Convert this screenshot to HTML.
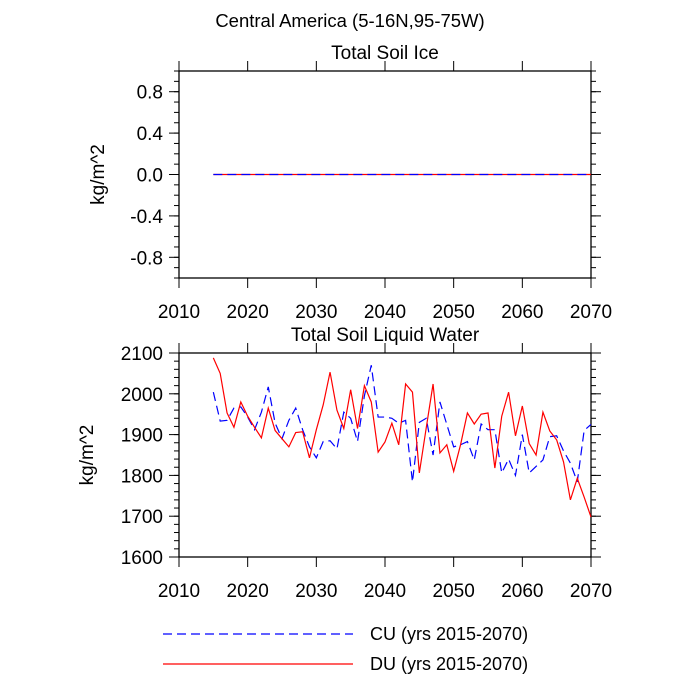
<!DOCTYPE html>
<html><head><meta charset="utf-8"><style>body{margin:0;background:#fff}svg{display:block;font-family:"Liberation Sans",sans-serif}</style></head>
<body>
<svg id="c" width="700" height="700"></svg>
<script>
const years=[];for(let y=2015;y<=2070;y++)years.push(y);
const duWater=[2088,2050,1953,1918,1980,1945,1918,1892,1965,1910,1890,1870,1905,1907,1843,1912,1973,2053,1960,1915,2010,1915,2020,1980,1857,1882,1928,1875,2024,2004,1806,1916,2024,1855,1875,1810,1875,1953,1926,1950,1953,1818,1945,2004,1897,1970,1878,1850,1955,1909,1887,1833,1740,1793,1747,1698];
const cuWater=[2004,1933,1935,1965,1968,1943,1912,1955,2017,1928,1890,1935,1965,1912,1870,1843,1883,1885,1865,1955,1940,1883,1995,2070,1943,1943,1940,1928,1935,1784,1930,1940,1850,1980,1925,1870,1875,1883,1838,1926,1912,1912,1806,1840,1800,1900,1806,1822,1838,1895,1897,1860,1830,1784,1910,1925];
const duIce=years.map(()=>0);
const cuIce=years.map(()=>0);
const xTicks=[2010,2020,2030,2040,2050,2060,2070];
const iceTicks=[0.8,0.4,0.0,-0.4,-0.8];
const waterTicks=[2100,2000,1900,1800,1700,1600];
const NS="http://www.w3.org/2000/svg";const svg=document.getElementById('c');
function el(t,a,p){const e=document.createElementNS(NS,t);for(const k in a)e.setAttribute(k,a[k]);(p||svg).appendChild(e);return e;}
function txt(s,a,p){const e=el('text',a,p);e.textContent=s;return e;}
const X0=179,X1=591;const xs=v=>X0+(v-2010)/60*(X1-X0);
function panel(name,top,bot,ymin,ymax,ticks,minorStep,fmt,cu,du,title,blueTop){
 const g=el('g',{});
 
 
 const ys=v=>bot-(v-ymin)/(ymax-ymin)*(bot-top);
 const r=el('rect',{x:X0,y:top,width:X1-X0,height:bot-top,fill:'none',stroke:'#000','stroke-width':1.3},g);
 
 for(const t of xTicks){const x=xs(t);
  el('line',{x1:x,x2:x,y1:bot,y2:bot+10,stroke:'#000'},g);el('line',{x1:x,x2:x,y1:top,y2:top-10,stroke:'#000'},g);
  const l=txt(String(t),{x:x,y:bot+40,'font-size':19,'text-anchor':'middle'},g);
  }
 for(let v=ymin;v<=ymax+1e-9;v+=minorStep){const y=ys(v);
  el('line',{x1:X0,x2:X0-5,y1:y,y2:y,stroke:'#000'},g);el('line',{x1:X1,x2:X1+5,y1:y,y2:y,stroke:'#000'},g);}
 for(const t of ticks){const y=ys(t);
  el('line',{x1:X0,x2:X0-10,y1:y,y2:y,stroke:'#000'},g);el('line',{x1:X1,x2:X1+10,y1:y,y2:y,stroke:'#000'},g);
  const l=txt(fmt(t),{x:X0-16,y:y+7,'font-size':19,'text-anchor':'end'},g);
  }
 const tt=txt(title,{x:385,y:top-12,'font-size':19,'text-anchor':'middle'},g);
 
 const yt=txt('kg/m^2',{x:0,y:0,'font-size':19,'text-anchor':'middle',transform:`translate(${name==='ice-panel'?104:93},${(top+bot)/2}) rotate(-90)`},g);
 
 const mk=(data,isCu)=>{const p=el('polyline',{points:data.map((v,i)=>xs(years[i])+','+ys(v)).join(' '),fill:'none',stroke:isCu?'#0000ff':'#ff0000','stroke-width':1.2},g);
  if(isCu)p.setAttribute('stroke-dasharray','9,5');return p;};
 let p1,p2;
 if(blueTop){p2=mk(du,false);p1=mk(cu,true);}else{p1=mk(cu,true);p2=mk(du,false);}
 
 
}
panel('ice-panel',71,278,-1,1,iceTicks,0.1,v=>v.toFixed(1),cuIce,duIce,'Total Soil Ice',true);
panel('water-panel',353,557,1600,2100,waterTicks,20,v=>String(v),cuWater,duWater,'Total Soil Liquid Water',false);
const mt=txt('Central America (5-16N,95-75W)',{x:350,y:27,'font-size':18.5,'text-anchor':'middle'});

const l1=el('line',{x1:163,x2:353,y1:634,y2:634,stroke:'#0000ff','stroke-width':1.2,'stroke-dasharray':'9,5'});

const t1=txt('CU (yrs 2015-2070)',{x:370,y:640,'font-size':18});

const l2=el('line',{x1:163,x2:353,y1:664,y2:664,stroke:'#ff0000','stroke-width':1.2});

const t2=txt('DU (yrs 2015-2070)',{x:370,y:670,'font-size':18});

</script>
</body></html>
